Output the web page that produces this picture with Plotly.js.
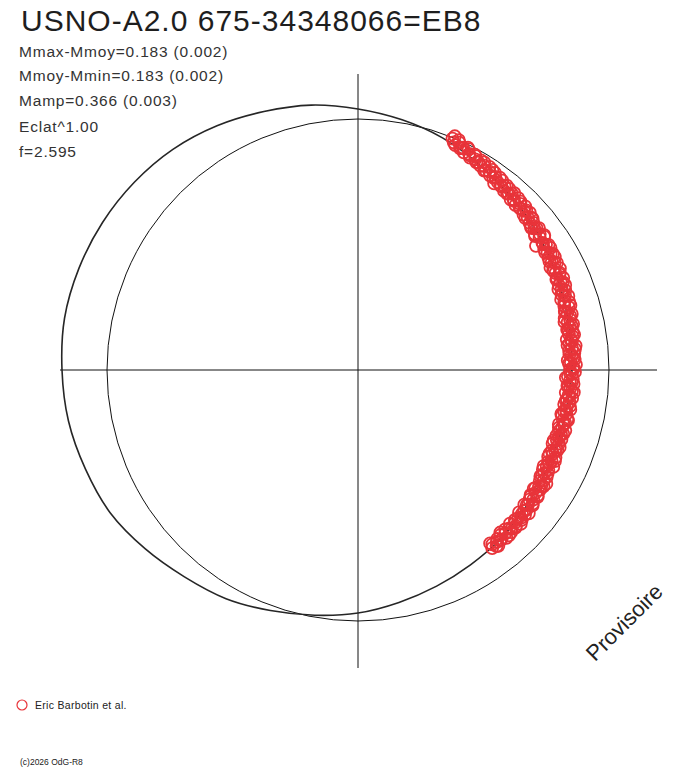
<!DOCTYPE html>
<html>
<head>
<meta charset="utf-8">
<script src="https://cdn.plot.ly/plotly-3.0.1.min.js"></script>
<style>html,body{margin:0;padding:0;background:#fff;}#chart{width:688px;height:768px;}</style>
</head>
<body>
<div id="chart"></div>
<script>
// ---- data ----
const titleText = "USNO-A2.0 675-34348066=EB8";
const statLines = ["Mmax-Mmoy=0.183 (0.002)", "Mmoy-Mmin=0.183 (0.002)", "Mamp=0.366 (0.003)", "Eclat^1.00", "f=2.595"];
const legendLabel = "Eric Barbotin et al.";
const creditText = "(c)2026 OdG-R8";
const stampText = "Provisoire";
const meanRadius = 251;   // reference circle (mean level)
const axisExtent = 298;

// fitted light curve (polar): angle in degrees, radial value
const fitPhase = [0,10,20,30,40,50,60,70,80,90,100,110,120,130,140,150,160,170,180,190,200,210,220,230,240,250,260,270,280,290,300,310,320,330,340,350,360];
const fitR     = [214,215,218,222,227,232,239,247,254,261,269,275,282,288,292,295,297,298,296,294,290,286,278,270,264,256,249,243,236,230,225,221,217,214,212,212,214];

// observations (red open circles), first batch
const obsPhase = [
-53.0,-52.4,-51.8,-51.1,-50.5,
-49.8,-49.2,-48.5,-47.9,-47.3,-46.6,-46.0,-45.3,-44.7,-44.1,-43.4,-42.8,-42.2,-41.5,-40.9,-40.3,
-39.6,-39.0,-38.4,-37.8,-37.1,-36.5,-35.9,-35.2,-34.6,-34.0,-33.3,-32.7,-32.1,-31.4,-30.8,-30.2,
-29.6,-29.0,-28.3,-27.7,-27.1,-26.4,-25.8,-25.2,-24.5,-23.9,-23.3,-22.6,-22.0,-21.4,-20.7,-20.1,
-19.5,-18.9,-18.2,-17.6,-17.0,-16.3,-15.7,-15.1,-14.4,-13.8,-13.2,-12.5,-11.9,-11.3,-10.6,-10.0,
-9.4,-8.7,-8.1,-7.5,-6.8,-6.2,-5.6,-4.9,-4.3,-3.7,-3.0,-2.4,-1.8,-1.1,-0.5,
0.1,0.7,1.4,2.0,2.6,3.3,3.9,4.5,5.2,5.8,6.4,7.1,7.7,8.3,9.0,9.6,
10.2,10.9,11.5,12.1,12.8,13.4,14.0,14.7,15.3,15.9,16.6,17.2,17.8,18.5,19.1,19.7,
20.4,21.0,21.6,22.3,22.9,23.5,24.2,24.8,25.4,26.1,26.7,27.3,28.0,28.6,29.2,29.9,
30.5,31.1,31.8,32.4,33.0,33.7,34.3,34.9,35.6,36.2,36.8,37.5,38.1,38.7,39.4,40.0,
40.6,41.3,41.9,42.5,43.2,43.8,44.4,45.1,45.7,46.3,47.0,47.6,48.2,48.9,49.5,50.1,
50.8,51.4,52.0,52.7,53.3,53.9,54.6,55.2,55.8,56.5,57.1,57.7,58.4,59.0,59.6,60.3,
60.9,61.5,62.2,62.8,63.4,64.1,64.7,65.3,66.0,66.6,67.2,67.8];
const obsR = [
223,220,224,221,219,
222,218,224,220,217,223,221,216,222,219,224,218,220,215,221,218,
219,214,217,221,215,218,213,220,216,212,218,215,219,213,216,211,
217,213,210,215,212,218,211,214,209,216,212,210,215,213,208,214,
211,215,209,213,210,216,212,208,214,211,215,209,213,210,216,212,
209,214,211,216,212,209,215,213,210,216,212,215,210,214,217,
212,215,218,213,210,216,214,217,212,215,219,213,216,211,217,214,
218,213,216,220,215,218,213,221,217,215,220,216,222,218,215,220,
217,222,219,224,218,221,225,219,223,220,226,221,218,224,222,227,
221,225,223,228,222,226,224,217,229,225,227,223,230,226,224,229,
226,231,228,233,227,230,234,229,232,228,235,231,229,234,232,236,
231,235,233,238,234,231,237,240,235,238,242,236,240,238,243,239,
241,245,240,243,247,242,246,244,249,245,247,250];

// observations, second batch
const obsPhase2 = [
-52.7,-51.4,-50.2,-48.8,-47.6,-46.3,-45.0,-43.7,-42.5,-41.2,-40.0,
-38.7,-37.4,-36.2,-34.9,-33.6,-32.4,-31.1,-29.8,-28.6,-27.4,-26.1,-24.8,-23.6,-22.3,-21.0,
-19.8,-18.5,-17.3,-16.0,-14.8,-13.5,-12.2,-11.0,-9.7,-8.4,-7.2,-5.9,-4.6,-3.4,-2.1,-0.8,
0.4,1.7,2.9,4.2,5.5,6.7,8.0,9.3,10.5,11.8,13.1,14.3,15.6,16.9,18.1,19.4,
20.7,21.9,23.2,24.5,25.7,27.0,28.3,29.5,30.8,32.1,33.3,34.6,35.9,37.1,38.4,39.7,
40.9,42.2,43.5,44.7,46.0,47.3,48.5,49.8,51.1,52.3,53.6,54.9,56.1,57.4,58.7,59.9,
61.2,62.5,63.7,65.0,66.3,67.5];
const obsR2 = [
218,225,222,216,224,219,223,217,222,218,223,
216,220,214,219,213,217,220,212,216,209,213,217,209,213,216,
208,212,215,209,213,216,208,212,215,210,213,217,211,214,208,212,
216,211,217,212,218,211,215,219,214,218,212,219,215,222,217,223,
219,216,223,218,224,219,226,220,227,221,228,224,230,222,228,225,
231,226,232,229,234,230,236,231,237,233,239,235,241,237,243,240,
244,242,248,245,251,253];

// ---- build traces ----
const rad = d => d * Math.PI / 180;
const toX = (ph, rr) => ph.map((p, i) => rr[i] * Math.cos(rad(p)));
const toY = (ph, rr) => ph.map((p, i) => rr[i] * Math.sin(rad(p)));
const allPhase = obsPhase.concat(obsPhase2);
const allR = obsR.concat(obsR2);

const red = '#e8343a';
const traces = [
  {x: toX(fitPhase, fitR), y: toY(fitPhase, fitR), type: 'scatter', mode: 'lines', line: {color: '#262626', width: 1.6, shape: 'spline', smoothing: 1}, hoverinfo: 'skip'},
  {x: toX(allPhase, allR), y: toY(allPhase, allR), type: 'scatter', mode: 'markers', marker: {symbol: 'circle-open', size: 12, color: red, line: {width: 1.8, color: red}}, hoverinfo: 'skip'}
];

// pixel -> paper helpers (plot area: x 60..657, y 74..668)
const L = 60, T = 74, PW = 597, PH = 594;
const px = v => (v - L) / PW;
const py = v => (T + PH - v) / PH;
const font = (s, c) => ({family: 'Liberation Sans, Arial, sans-serif', size: s, color: c || '#222'});
const txt = (t, x, y, s, c) => ({text: t, x: px(x), y: py(y), xref: 'paper', yref: 'paper', xanchor: 'left', yanchor: 'middle', align: 'left', showarrow: false, font: font(s, c)});

const annotations = [
  txt(titleText, 19, 20, 30, '#1e1e1e'),
  txt(legendLabel, 33, 705, 10.5),
  txt(creditText, 18, 762, 8.5),
  {text: stampText, x: px(624), y: py(622), xref: 'paper', yref: 'paper', xanchor: 'center', yanchor: 'middle', textangle: -45, showarrow: false, font: font(22)}
];
statLines.forEach((t, i) => annotations.push(txt(t, 17, 51 + 25 * i, 15.5, '#333')));

const shapes = [
  {type: 'line', xref: 'x', yref: 'y', x0: 0, x1: 0, y0: -axisExtent, y1: 296, line: {color: '#111', width: 1}, layer: 'below'},
  {type: 'line', xref: 'x', yref: 'y', x0: -axisExtent, x1: 299, y0: 0, y1: 0, line: {color: '#111', width: 1}, layer: 'below'},
  {type: 'circle', xref: 'x', yref: 'y', x0: -meanRadius, x1: meanRadius, y0: -meanRadius, y1: meanRadius, line: {color: '#111', width: 1}, layer: 'below'},
  {type: 'circle', xref: 'paper', yref: 'paper', x0: px(17), x1: px(27), y0: py(710), y1: py(700), line: {color: red, width: 1.2}}
];

const layout = {
  width: 688, height: 768,
  margin: {l: L, r: 688 - L - PW, t: T, b: 768 - T - PH, pad: 0},
  paper_bgcolor: '#fff', plot_bgcolor: '#fff',
  showlegend: false,
  xaxis: {range: [-298, 299], visible: false, fixedrange: true},
  yaxis: {range: [-298, 296], visible: false, fixedrange: true},
  annotations: annotations,
  shapes: shapes
};

Plotly.newPlot('chart', traces, layout, {staticPlot: true, displayModeBar: false}).then(gd => {
  // the reference text is set with slightly open letter spacing
  const spacing = [1, 0.3, 0, 0, 0.8, 0.8, 0.8, 0.8, 0.8];
  gd.querySelectorAll('g.annotation').forEach((g, i) => {
    const t = g.querySelector('text.annotation-text');
    if (t && spacing[i]) t.style.letterSpacing = spacing[i] + 'px';
  });
});
</script>
</body>
</html>
